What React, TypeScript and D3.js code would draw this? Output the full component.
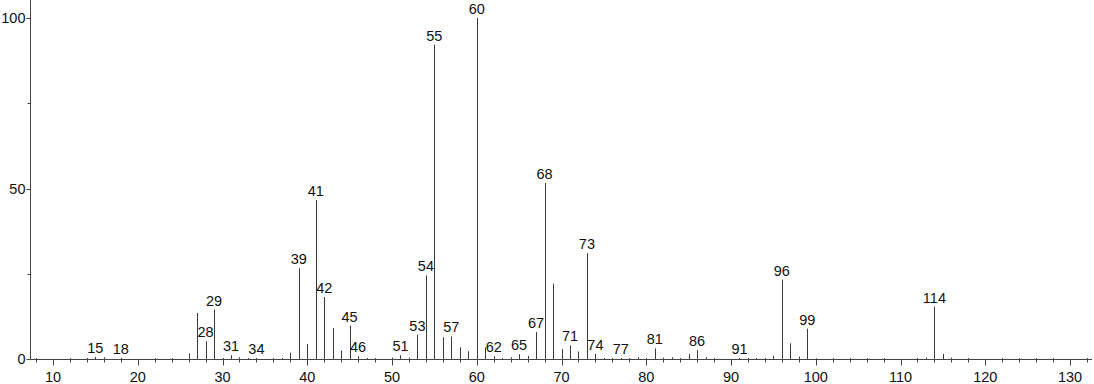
import React from "react";
import * as d3 from "d3";

const mz: number[] = [15, 16, 18, 26, 27, 28, 29, 30, 31, 32, 33, 34, 37, 38, 39, 40, 41, 42, 43, 44, 45, 46, 47, 50, 51, 52, 53, 54, 55, 56, 57, 58, 59, 60, 61, 62, 63, 64, 65, 66, 67, 68, 69, 70, 71, 72, 73, 74, 75, 77, 78, 79, 80, 81, 82, 83, 85, 86, 87, 91, 93, 94, 95, 96, 97, 98, 99, 100, 112, 113, 114, 115, 116];
const intensity: number[] = [0.6, 0.5, 0.3, 1.6, 13.5, 5.2, 14.5, 0.3, 1.1, 0.5, 0.3, 0.3, 0.3, 1.9, 26.6, 4.4, 46.6, 18.2, 9.1, 2.5, 9.8, 0.8, 0.3, 0.4, 1.1, 0.4, 7.1, 24.5, 92.2, 6.4, 6.6, 3.4, 2.3, 100, 3.4, 0.8, 0.3, 0.5, 1.4, 0.9, 7.9, 51.6, 22.1, 2.9, 4.0, 2.2, 31.0, 1.5, 0.3, 0.3, 0.3, 0.5, 0.3, 3.1, 0.4, 0.5, 1.5, 2.6, 0.5, 0.3, 0.3, 0.3, 0.9, 23.3, 4.6, 0.7, 8.9, 0.2, 0.3, 0.4, 15.3, 1.5, 0.4];
const labeled: number[] = [15, 18, 28, 29, 31, 34, 39, 41, 42, 45, 46, 51, 53, 54, 55, 57, 60, 62, 65, 67, 68, 71, 73, 74, 77, 81, 86, 91, 96, 99, 114];
const xTicks: number[] = [10, 20, 30, 40, 50, 60, 70, 80, 90, 100, 110, 120, 130];
const yTicks: number[] = [0, 50, 100];
const yMinorTicks: number[] = [25, 75];

export default function App() {
  const W = 1094, H = 384;
  const x = d3.scaleLinear().domain([10, 130]).range([53, 1070]);
  const y = d3.scaleLinear().domain([0, 100]).range([359, 18]);
  const x0 = 30.5, yBase = 359.5;
  const minor = d3.range(8, 133, 2).filter((v) => v % 10 !== 0);
  const font = "'Liberation Sans', Arial, sans-serif";
  const fs = 14.5;
  const peaks = mz.map((m, i) => ({ m, v: intensity[i] }));
  return (
    <div style={{ position: "absolute", left: 0, top: 0 }}>
      <svg width={W} height={H} style={{ display: "block", background: "#fff" }}>
        {peaks.map((p) => (
          <line key={p.m} x1={Math.round(x(p.m)) + 0.5} x2={Math.round(x(p.m)) + 0.5} y1={yBase} y2={y(p.v)} stroke="#3a3a3a" strokeWidth={1} />
        ))}
        <line x1={x0} x2={x0} y1={0} y2={yBase} stroke="#444" />
        <line x1={x0} x2={1092} y1={yBase} y2={yBase} stroke="#444" />
        {xTicks.map((t) => (
          <g key={t}>
            <line x1={Math.round(x(t)) + 0.5} x2={Math.round(x(t)) + 0.5} y1={yBase} y2={yBase + 6} stroke="#444" />
            <text x={x(t)} y={382} textAnchor="middle" fontFamily={font} fontSize={fs} fill="#111">{t}</text>
          </g>
        ))}
        {minor.map((t) => (
          <line key={t} x1={Math.round(x(t)) + 0.5} x2={Math.round(x(t)) + 0.5} y1={yBase - 1.5} y2={yBase + 3} stroke="#444" />
        ))}
        {yTicks.map((t) => (
          <g key={t}>
            <line x1={x0 - 4} x2={x0} y1={Math.round(y(t)) + 0.5} y2={Math.round(y(t)) + 0.5} stroke="#444" />
            <text x={x0 - 5} y={y(t) + 5} textAnchor="end" fontFamily={font} fontSize={fs} fill="#111">{t}</text>
          </g>
        ))}
        {yMinorTicks.map((t) => (
          <line key={t} x1={x0 - 3} x2={x0} y1={Math.round(y(t)) + 0.5} y2={Math.round(y(t)) + 0.5} stroke="#444" />
        ))}
        {peaks.filter((p) => labeled.includes(p.m)).map((p) => (
          <text key={p.m} x={x(p.m)} y={y(p.v) - 4} textAnchor="middle" fontFamily={font} fontSize={fs} fill="#111">{p.m}</text>
        ))}
      </svg>
    </div>
  );
}
